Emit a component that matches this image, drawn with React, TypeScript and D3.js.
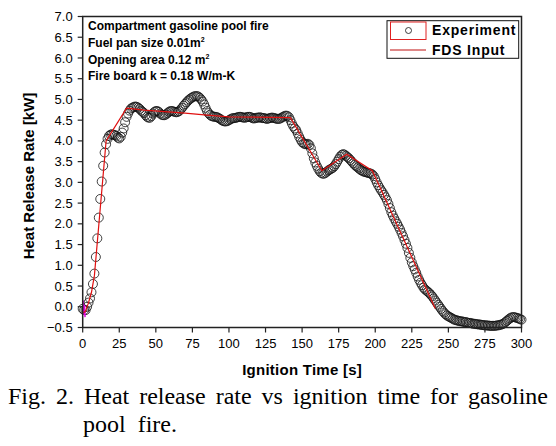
import React, { useLayoutEffect, useRef } from "react";
import * as d3 from "d3";

// Experiment: heat release rate [kW], sampled every 1 s from t = 0 to 300 s
const expHrr: number[] = [
  -0.05, -0.08, -0.08, 0.0, 0.1, 0.2, 0.35, 0.55, 0.8, 1.2,
  1.65, 2.15, 2.6, 3.02, 3.4, 3.72, 3.92, 4.05, 4.12, 4.15,
  4.16, 4.15, 4.14, 4.12, 4.08, 4.06, 4.1, 4.2, 4.3, 4.45,
  4.58, 4.66, 4.73, 4.78, 4.8, 4.82, 4.83, 4.82, 4.8, 4.77,
  4.73, 4.7, 4.67, 4.62, 4.58, 4.56, 4.56, 4.6, 4.66, 4.7,
  4.72, 4.72, 4.7, 4.66, 4.63, 4.62, 4.62, 4.64, 4.67, 4.7,
  4.72, 4.72, 4.71, 4.7, 4.69, 4.7, 4.72, 4.76, 4.8, 4.85,
  4.89, 4.93, 4.97, 5.0, 5.03, 5.05, 5.07, 5.08, 5.08, 5.07,
  5.04, 5.0, 4.95, 4.88, 4.8, 4.72, 4.67, 4.63, 4.6, 4.59,
  4.58, 4.58, 4.57, 4.55, 4.53, 4.5, 4.48, 4.47, 4.47, 4.48,
  4.5, 4.52, 4.54, 4.55, 4.55, 4.56, 4.57, 4.58, 4.58, 4.57,
  4.56, 4.56, 4.57, 4.58, 4.58, 4.57, 4.55, 4.54, 4.55, 4.56,
  4.56, 4.57, 4.56, 4.55, 4.55, 4.54, 4.53, 4.54, 4.55, 4.56,
  4.56, 4.55, 4.54, 4.53, 4.53, 4.54, 4.56, 4.58, 4.6, 4.61,
  4.6, 4.57, 4.5, 4.42, 4.35, 4.3, 4.26, 4.18, 4.1, 4.03,
  3.97, 3.94, 3.92, 3.92, 3.93, 3.9, 3.82, 3.7, 3.58, 3.48,
  3.4, 3.33, 3.27, 3.23, 3.21, 3.21, 3.23, 3.26, 3.29, 3.31,
  3.33, 3.35, 3.39, 3.44, 3.5, 3.56, 3.62, 3.66, 3.68, 3.67,
  3.64, 3.61, 3.58, 3.54, 3.5, 3.46, 3.42, 3.39, 3.36, 3.33,
  3.3, 3.28, 3.26, 3.25, 3.24, 3.23, 3.22, 3.21, 3.19, 3.15,
  3.08, 3.0, 2.93, 2.87, 2.81, 2.76, 2.7, 2.64, 2.57, 2.48,
  2.38, 2.28, 2.2, 2.13, 2.06, 2.0, 1.93, 1.86, 1.78, 1.7,
  1.61, 1.52, 1.42, 1.3, 1.18, 1.07, 0.98, 0.9, 0.82, 0.73,
  0.65, 0.58, 0.52, 0.46, 0.42, 0.39, 0.36, 0.33, 0.29, 0.25,
  0.2, 0.15, 0.1, 0.05, 0.0, -0.05, -0.1, -0.14, -0.18, -0.21,
  -0.23, -0.25, -0.27, -0.29, -0.31, -0.32, -0.33, -0.34, -0.35, -0.35,
  -0.36, -0.37, -0.37, -0.38, -0.39, -0.39, -0.4, -0.41, -0.41, -0.42,
  -0.42, -0.43, -0.43, -0.44, -0.44, -0.45, -0.45, -0.45, -0.46, -0.46,
  -0.46, -0.46, -0.46, -0.45, -0.45, -0.44, -0.43, -0.42, -0.4, -0.37,
  -0.34, -0.31, -0.28, -0.26, -0.25, -0.25, -0.26, -0.27, -0.28, -0.3,
  -0.31,
];
const expStep = 1; // s

// FDS input (piecewise linear)
const fdsTime: number[] = [0.5, 2, 4, 6, 8, 16, 30, 42, 70, 85, 100, 142, 163.5, 180.5, 198, 203, 241];
const fdsHrr: number[] = [-0.15, -0.1, 0.1, 0.35, 0.75, 4.0, 4.79, 4.74, 4.67, 4.62, 4.58, 4.56, 3.28, 3.68, 3.28, 2.9, -0.04];

// small magenta trace at the origin
const magTime: number[] = [0.3, 0.8, 1.2, 1.6];
const magHrr: number[] = [0.15, -0.2, 0.05, -0.25];

const xTicks: number[] = [0, 25, 50, 75, 100, 125, 150, 175, 200, 225, 250, 275, 300];
const yTicks: number[] = [-0.5, 0.0, 0.5, 1.0, 1.5, 2.0, 2.5, 3.0, 3.5, 4.0, 4.5, 5.0, 5.5, 6.0, 6.5, 7.0];

const annotLines = [
  { text: "Compartment gasoline pool fire", sup: "" },
  { text: "Fuel pan size 0.01m", sup: "2" },
  { text: "Opening area 0.12 m", sup: "2" },
  { text: "Fire board k = 0.18 W/m-K", sup: "" },
];
const legendLabels = ["Experiment", "FDS Input"];
const captionLine1 = "Fig. 2. Heat release rate vs ignition time for gasoline";
const captionLine2 = "pool  fire.";

const W = 556;
const H = 446;
const L = 82.7, R = 521.5, T = 16.5, B = 327.5;
const SANS = "'Liberation Sans', Arial, sans-serif";
const SERIF = "'Liberation Serif', 'Times New Roman', serif";

function Caption() {
  const ref = useRef<SVGTextElement>(null);
  useLayoutEffect(() => {
    const el = ref.current;
    if (!el) return;
    el.setAttribute("word-spacing", "0");
    const w = el.getComputedTextLength();
    const spaces = captionLine1.split(" ").length - 1;
    const target = 540;
    el.setAttribute("word-spacing", String(Math.max(0, (target - w) / spaces)));
  }, []);
  return (
    <g fontFamily={SERIF} fontSize={24} fill="#000">
      <text ref={ref} x={8} y={404}>{captionLine1}</text>
      <text x={83} y={432} style={{ whiteSpace: "pre" }}>{captionLine2}</text>
    </g>
  );
}

export default function App() {
  const x = d3.scaleLinear().domain([0, 300]).range([L, R]);
  const y = d3.scaleLinear().domain([-0.5, 7]).range([B, T]);

  const fdsLine = d3
    .line<number>()
    .x((_, i) => x(fdsTime[i]))
    .y((d) => y(d))(fdsHrr) as string;
  const magLine = d3
    .line<number>()
    .x((_, i) => x(magTime[i]))
    .y((d) => y(d))(magHrr) as string;

  const fmt = d3.format(".1f");

  return (
    <svg
      width={W}
      height={H}
      viewBox={`0 0 ${W} ${H}`}
      style={{ position: "absolute", left: 0, top: 0, background: "#fff" }}
    >
      <rect x={0} y={0} width={W} height={H} fill="#fff" />

      {/* experiment circles */}
      <g fill="none" stroke="#111" strokeWidth={0.8}>
        {expHrr.map((v, i) => (
          <circle key={i} cx={x(i * expStep)} cy={y(v)} r={4.5} />
        ))}
      </g>

      {/* magenta trace */}
      <path d={magLine} fill="none" stroke="#e000e0" strokeWidth={1.5} />

      {/* FDS line */}
      <path d={fdsLine} fill="none" stroke="#e01010" strokeWidth={1.2} />

      {/* frame */}
      <rect x={L} y={T} width={R - L} height={B - T} fill="none" stroke="#222" strokeWidth={1.5} />

      {/* y axis ticks */}
      <g fontFamily={SANS} fontSize={13} fill="#000">
        {yTicks.map((t) => (
          <g key={t}>
            <line x1={L - 5} x2={L} y1={y(t)} y2={y(t)} stroke="#222" strokeWidth={1.2} />
            <text x={L - 10} y={y(t)} dy="0.35em" textAnchor="end">
              {fmt(t)}
            </text>
          </g>
        ))}
      </g>

      {/* x axis ticks */}
      <g fontFamily={SANS} fontSize={13} fill="#000">
        {xTicks.map((t) => (
          <g key={t}>
            <line x1={x(t)} x2={x(t)} y1={B} y2={B + 5} stroke="#222" strokeWidth={1.2} />
            <text x={x(t)} y={348} textAnchor="middle">
              {t}
            </text>
          </g>
        ))}
      </g>

      {/* axis titles */}
      <text
        x={(L + R) / 2}
        y={375}
        textAnchor="middle"
        fontFamily={SANS}
        fontSize={15}
        fontWeight="bold"
        letterSpacing={0.25}
      >
        Ignition Time [s]
      </text>
      <text
        transform={`translate(33.5, ${(T + B) / 2 + 4}) rotate(-90)`}
        textAnchor="middle"
        fontFamily={SANS}
        fontSize={15}
        fontWeight="bold"
      >
        Heat Release Rate [kW]
      </text>

      {/* annotation */}
      <g fontFamily={SANS} fontSize={12} fontWeight="bold" fill="#000">
        {annotLines.map((a, i) => (
          <text key={i} x={88} y={[30, 47, 64, 80][i]}>
            {a.text}
            {a.sup ? (
              <tspan fontSize={7} dy={-5}>
                {a.sup}
              </tspan>
            ) : null}
          </text>
        ))}
      </g>

      {/* legend */}
      <rect x={387} y={20.7} width={131.7} height={37.6} fill="#fff" stroke="#111" strokeWidth={1} />
      <rect x={390.5} y={22} width={35.5} height={17.5} fill="none" stroke="#e02020" strokeWidth={1} />
      <circle cx={408.5} cy={30.5} r={3} fill="none" stroke="#111" strokeWidth={0.8} />
      <line x1={390} x2={426} y1={50} y2={50} stroke="#c01010" strokeWidth={1.2} />
      <g fontFamily={SANS} fontSize={14} fontWeight="bold" fill="#000" letterSpacing={0.8}>
        <text x={432} y={35}>{legendLabels[0]}</text>
        <text x={432} y={55}>{legendLabels[1]}</text>
      </g>

      <Caption />
    </svg>
  );
}
